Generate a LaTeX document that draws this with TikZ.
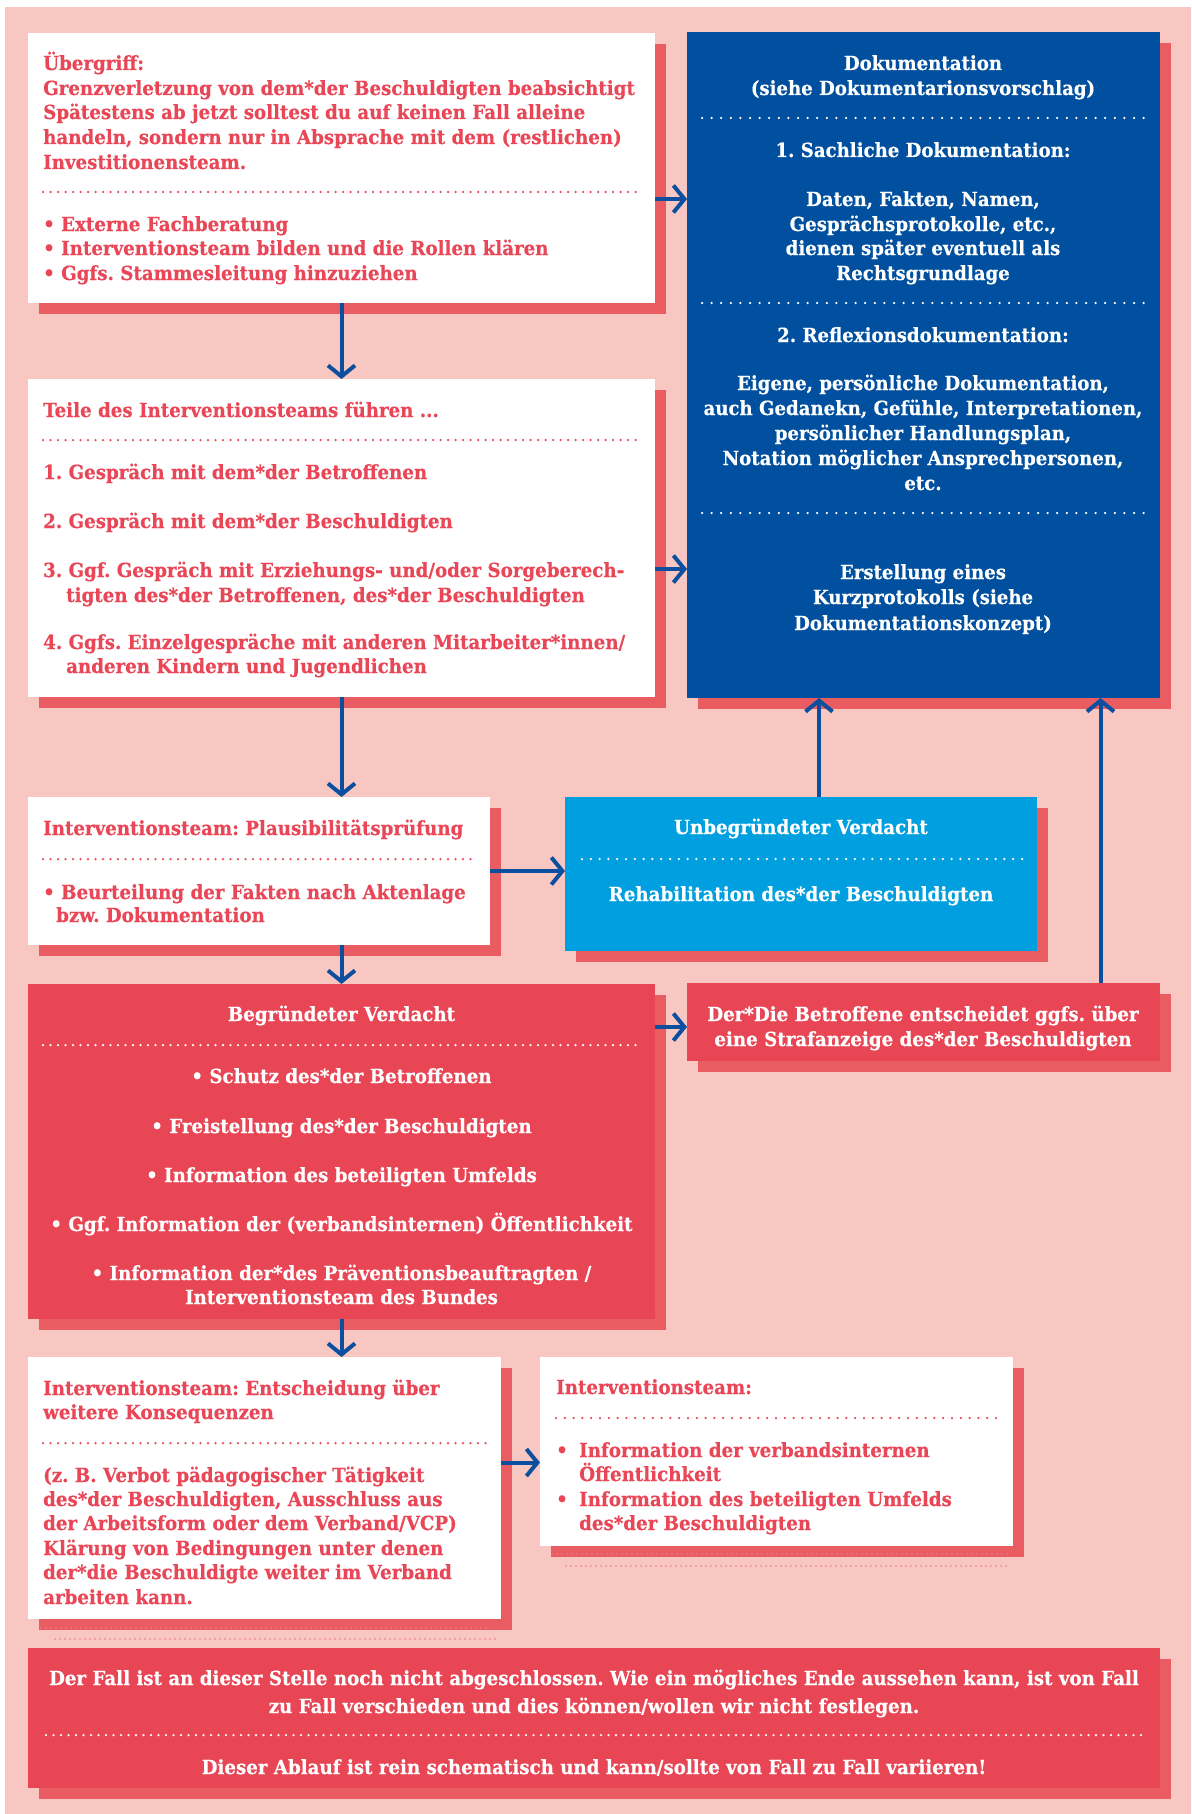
\documentclass[tikz,border=0pt]{standalone}
\usepackage{fontspec}
\setmainfont{DejaVu Serif}
\newfontfamily\rf{DejaVu Serif}[FakeStretch=0.935, FakeBold=0.4]
\newfontfamily\wf{DejaVu Serif}[FakeStretch=0.93, FakeBold=0.4]
\frenchspacing
\usetikzlibrary{arrows.meta,shadows}
\definecolor{bgpink}{HTML}{F8C7C1}
\definecolor{shred}{HTML}{E85C62}
\definecolor{redtext}{HTML}{E94757}
\definecolor{boxred}{HTML}{E94655}
\definecolor{dokublue}{HTML}{00509F}
\definecolor{cyanbox}{HTML}{009FE0}
\definecolor{arrblue}{HTML}{0B4F9E}
\definecolor{faintdot}{HTML}{EE7B82}
\tikzset{
  box/.style={rectangle, anchor=north west, inner sep=0pt, outer sep=0pt, draw=none,
    drop shadow={shadow xshift=11pt, shadow yshift=-11pt, fill=shred, opacity=1}},
  tx/.style={anchor=base west, inner sep=0pt, font=\rf\bfseries\fontsize{19.5}{24}\selectfont, text=redtext},
  tc/.style={anchor=base, inner sep=0pt, font=\rf\bfseries\fontsize{19.5}{24}\selectfont, text=white},
  td/.style={anchor=base, inner sep=0pt, font=\wf\bfseries\fontsize{19.5}{24}\selectfont, text=white},
  dotline/.style={line width=2.5pt, line cap=round, dash pattern=on 0pt off 7.5pt},
  conn/.style={draw=arrblue, line width=4pt, -{Straight Barb[length=11pt,width=27pt]}},
}
\begin{document}
\begin{tikzpicture}[x=1pt,y=-1pt]
\useasboundingbox (0,0) rectangle (1191,1814);
\fill[white] (0,0) rectangle (1191,1814);
\fill[bgpink] (5,7) rectangle (1191,1814);

% boxes
\node[box, fill=white, minimum width=627pt, minimum height=270pt] (b1) at (28,33) {};
\node[box, fill=dokublue, minimum width=473pt, minimum height=666pt] (doku) at (687,32) {};
\node[box, fill=white, minimum width=627pt, minimum height=318pt] (b2) at (28,379) {};
\node[box, fill=white, minimum width=462pt, minimum height=148pt] (b3) at (28,797) {};
\node[box, fill=cyanbox, minimum width=472pt, minimum height=154pt] (unbeg) at (565,797) {};
\node[box, fill=boxred, minimum width=627pt, minimum height=335pt] (begr) at (28,984) {};
\node[box, fill=boxred, minimum width=473pt, minimum height=78pt] (straf) at (687,983) {};
\node[box, fill=white, minimum width=473pt, minimum height=262pt] (ent) at (28,1357) {};
\node[box, fill=white, minimum width=473pt, minimum height=189pt] (team) at (540,1357) {};
\node[box, fill=boxred, minimum width=1132pt, minimum height=140pt] (final) at (28,1648) {};

% faint dotted artefacts
\draw[dotline, draw=faintdot, line width=1.6pt, dash pattern=on 0pt off 5pt] (41,1628) -- (486,1628);
\draw[dotline, draw=faintdot, line width=1.6pt, dash pattern=on 0pt off 5pt] (55,1639) -- (497,1639);
\draw[dotline, draw=faintdot, line width=1.6pt, dash pattern=on 0pt off 5pt] (552,1554) -- (1010,1554);
\draw[dotline, draw=faintdot, line width=1.6pt, dash pattern=on 0pt off 5pt] (566,1566) -- (1009,1566);

% box 1
\node[tx] (t1a) at (43,70) {Übergriff:};
\node[tx] (t1b) at (43,95) {Grenzverletzung von dem*der Beschuldigten beabsichtigt};
\node[tx] (t1c) at (43,119) {Spätestens ab jetzt solltest du auf keinen Fall alleine};
\node[tx] (t1d) at (43,144) {handeln, sondern nur in Absprache mit dem (restlichen)};
\node[tx] (t1e) at (43,169) {Investitionensteam.};
\draw[dotline, draw=redtext] (43,192) -- (642,192);
\node[tx] (t1f) at (43,231) {• Externe Fachberatung};
\node[tx] (t1g) at (43,255) {• Interventionsteam bilden und die Rollen klären};
\node[tx] (t1h) at (43,280) {• Ggfs. Stammesleitung hinzuziehen};

% Doku
\node[td] (d1) at (923,70) {Dokumentation};
\node[td] (d2) at (923,95) {(siehe Dokumentarionsvorschlag)};
\draw[dotline, draw=white, dash pattern=on 0pt off 9.6pt] (702,118) -- (1144,118);
\node[td] (d3) at (923,157) {1. Sachliche Dokumentation:};
\node[td] (d4) at (923,206) {Daten, Fakten, Namen,};
\node[td] (d5) at (923,231) {Gesprächsprotokolle, etc.,};
\node[td] (d6) at (923,255) {dienen später eventuell als};
\node[td] (d7) at (923,280) {Rechtsgrundlage};
\draw[dotline, draw=white, dash pattern=on 0pt off 9.6pt] (702,303) -- (1144,303);
\node[td] (d8) at (923,342) {2. Reflexionsdokumentation:};
\node[td] (d9) at (923,390) {Eigene, persönliche Dokumentation,};
\node[td] (d10) at (923,415) {auch Gedanekn, Gefühle, Interpretationen,};
\node[td] (d11) at (923,440) {persönlicher Handlungsplan,};
\node[td] (d12) at (923,465) {Notation möglicher Ansprechpersonen,};
\node[td] (d13) at (923,490) {etc.};
\draw[dotline, draw=white, dash pattern=on 0pt off 9.6pt] (702,513) -- (1144,513);
\node[td] (d14) at (923,579) {Erstellung eines};
\node[td] (d15) at (923,604) {Kurzprotokolls (siehe};
\node[td] (d16) at (923,630) {Dokumentationskonzept)};

% box 2
\node[tx] (t2a) at (43,417) {Teile des Interventionsteams führen ...};
\draw[dotline, draw=redtext] (43,440) -- (642,440);
\node[tx] (t2b) at (43,479) {1. Gespräch mit dem*der Betroffenen};
\node[tx] (t2c) at (43,528) {2. Gespräch mit dem*der Beschuldigten};
\node[tx] (t2d) at (43,577) {3. Ggf. Gespräch mit Erziehungs- und/oder Sorgeberech-};
\node[tx] (t2e) at (66,602) {tigten des*der Betroffenen, des*der Beschuldigten};
\node[tx] (t2f) at (43,649) {4. Ggfs. Einzelgespräche mit anderen Mitarbeiter*innen/};
\node[tx] (t2g) at (66,673) {anderen Kindern und Jugendlichen};

% box 3
\node[tx] (t3a) at (43,835) {Interventionsteam: Plausibilitätsprüfung};
\draw[dotline, draw=redtext] (43,859) -- (474,859);
\node[tx] (t3b) at (43,899) {• Beurteilung der Fakten nach Aktenlage};
\node[tx] (t3c) at (56,922) {bzw. Dokumentation};

% unbegruendet
\node[tc] (u1) at (801,834) {Unbegründeter Verdacht};
\draw[dotline, draw=white, dash pattern=on 0pt off 8.8pt] (582,859) -- (1024,859);
\node[tc] (u2) at (801,901) {Rehabilitation des*der Beschuldigten};

% begruendet
\node[tc] (g1) at (341.5,1021) {Begründeter Verdacht};
\draw[dotline, draw=white] (43,1045) -- (642,1045);
\node[tc] (g2) at (341.5,1083) {• Schutz des*der Betroffenen};
\node[tc] (g3) at (341.5,1133) {• Freistellung des*der Beschuldigten};
\node[tc] (g4) at (341.5,1182) {• Information des beteiligten Umfelds};
\node[tc] (g5) at (341.5,1231) {• Ggf. Information der (verbandsinternen) Öffentlichkeit};
\node[tc] (g6) at (341.5,1280) {• Information der*des Präventionsbeauftragten /};
\node[tc] (g7) at (341.5,1304) {Interventionsteam des Bundes};

% strafanzeige
\node[tc] (s1) at (923,1021) {Der*Die Betroffene entscheidet ggfs. über};
\node[tc] (s2) at (923,1046) {eine Strafanzeige des*der Beschuldigten};

% entscheidung
\node[tx] (e1) at (43,1395) {Interventionsteam: Entscheidung über};
\node[tx] (e2) at (43,1419) {weitere Konsequenzen};
\draw[dotline, draw=redtext] (43,1443) -- (486,1443);
\node[tx] (e3) at (43,1482) {(z. B. Verbot pädagogischer Tätigkeit};
\node[tx] (e4) at (43,1506) {des*der Beschuldigten, Ausschluss aus};
\node[tx] (e5) at (43,1530) {der Arbeitsform oder dem Verband/VCP)};
\node[tx] (e6) at (43,1555) {Klärung von Bedingungen unter denen};
\node[tx] (e7) at (43,1579) {der*die Beschuldigte weiter im Verband};
\node[tx] (e8) at (43,1604) {arbeiten kann.};

% interventionsteam
\node[tx] (i1) at (556,1394) {Interventionsteam:};
\draw[dotline, draw=redtext, dash pattern=on 0pt off 8.8pt] (556,1418) -- (998,1418);
\node[tx] (i2) at (556,1457) {•};
\node[tx] (i3) at (579,1457) {Information der verbandsinternen};
\node[tx] (i4) at (579,1481) {Öffentlichkeit};
\node[tx] (i5) at (556,1506) {•};
\node[tx] (i6) at (579,1506) {Information des beteiligten Umfelds};
\node[tx] (i7) at (579,1530) {des*der Beschuldigten};

% final
\node[tc] (f1) at (594,1685) {Der Fall ist an dieser Stelle noch nicht abgeschlossen. Wie ein mögliches Ende aussehen kann, ist von Fall};
\node[tc] (f2) at (594,1713) {zu Fall verschieden und dies können/wollen wir nicht festlegen.};
\draw[dotline, draw=white] (46,1735) -- (1143,1735);
\node[tc] (f3) at (594,1774) {Dieser Ablauf ist rein schematisch und kann/sollte von Fall zu Fall variieren!};

% connectors
\draw[conn] (b1.south) -- (b2.north);
\draw[conn] (b2.south) -- (b3.north -| b2.south);
\draw[conn] (b3.south -| b2.south) -- (begr.north);
\draw[conn] (begr.south) -- (ent.north -| begr.south);
\draw[conn] ([yshift=-31pt]b1.east) -- ([yshift=-31pt]b1.east -| doku.west);
\draw[conn] ([yshift=-31pt]b2.east) -- ([yshift=-31pt]b2.east -| doku.west);
\draw[conn] (b3.east) -- (b3.east -| unbeg.west);
\draw[conn] ([yshift=-5pt]straf.west -| begr.east) -- ([yshift=-5pt]straf.west);
\draw[conn] ([yshift=-11pt]team.west -| ent.east) -- ([yshift=-11pt]team.west);
\draw[conn] ([xshift=18pt]unbeg.north) -- ([xshift=18pt]unbeg.north |- doku.south);
\draw[conn] ([xshift=177pt]straf.north) -- ([xshift=177pt]straf.north |- doku.south);
\end{tikzpicture}
\end{document}
